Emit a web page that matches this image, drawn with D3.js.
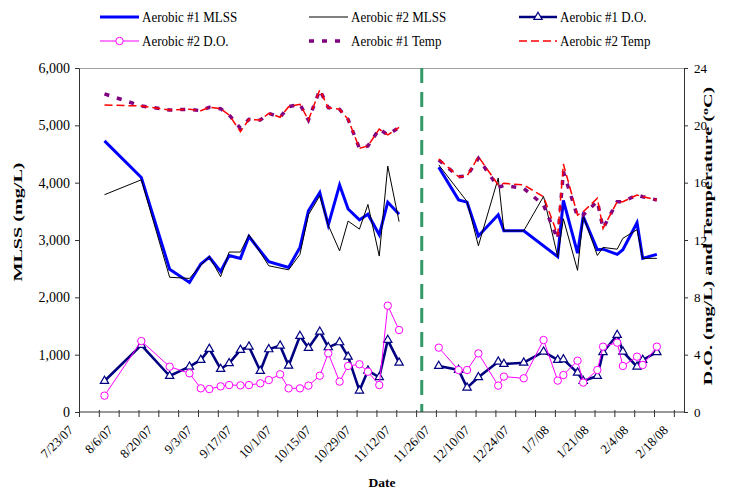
<!DOCTYPE html>
<html>
<head>
<meta charset="utf-8">
<script src="https://cdn.jsdelivr.net/npm/d3@7"></script>
<style>
  body { margin: 0; background: #fff; }
  svg { display: block; }
  text { font-family: "Liberation Serif", "Times New Roman", serif; fill: #000; }
</style>
</head>
<body>
<svg id="chart" width="735" height="491"></svg>
<script>
// Sampling dates (two operating periods separated by a process change)
const sampleDates = [
  "2007-08-01","2007-08-14","2007-08-24","2007-08-31","2007-09-04","2007-09-07","2007-09-11",
  "2007-09-14","2007-09-18","2007-09-21","2007-09-25","2007-09-28","2007-10-02","2007-10-05",
  "2007-10-09","2007-10-12","2007-10-16","2007-10-19","2007-10-23","2007-10-26","2007-10-30",
  "2007-11-02","2007-11-06","2007-11-09","2007-11-13",
  "2007-11-27","2007-12-04","2007-12-07","2007-12-11","2007-12-18","2007-12-20","2007-12-27",
  "2008-01-03","2008-01-08","2008-01-10","2008-01-15","2008-01-17","2008-01-22","2008-01-24",
  "2008-01-29","2008-01-31","2008-02-05","2008-02-07","2008-02-12"
];
const changeDate = "2007-11-21";

// MLSS (mg/L), left axis
const mlss1 = [4730,4090,2490,2260,2580,2700,2450,2730,2680,3060,null,2620,null,2520,2870,3510,3830,3260,3960,3540,3350,3450,3090,3660,3450,
               4270,3700,3660,3070,3440,3160,3160,null,2710,3690,2770,3410,2830,2840,2750,2830,3300,2680,2750];
const mlss2 = [3790,4050,2350,2330,2560,2710,2360,2790,2790,3090,null,2550,null,2480,2750,3440,3770,3260,2810,3330,3190,3620,2720,4290,3320,
               4310,null,3670,2900,4080,3160,3160,3760,2710,3370,2470,3420,2730,2870,2840,3030,3180,2680,2680];

// D.O. (mg/L) and temperature (deg C), right axis
const do1 = [2.16,4.67,2.51,3.16,3.63,4.40,3.00,3.40,4.33,4.56,2.86,4.37,4.63,3.23,5.30,4.47,5.60,4.51,4.86,3.86,1.49,2.88,2.42,5.02,3.44,
             3.21,2.93,1.70,2.42,3.51,3.35,3.44,4.21,3.63,3.67,2.74,2.16,2.51,4.17,5.37,4.21,3.16,3.63,4.17];
const do2 = [1.14,4.95,3.16,2.70,1.65,1.60,1.79,1.88,1.86,1.88,2.00,2.23,2.63,1.65,1.65,1.84,2.53,4.09,2.12,3.21,3.33,2.81,1.88,7.42,5.72,
             4.49,2.93,2.93,4.09,1.84,2.47,2.35,5.02,2.19,2.58,3.58,2.05,2.93,4.56,4.84,3.21,3.86,3.28,4.56];
const temp1 = [22.19,21.35,21.07,21.12,21.02,21.26,21.16,20.72,19.80,20.42,20.37,20.84,20.56,21.30,21.47,20.37,22.47,21.23,21.12,20.42,18.40,18.56,19.74,19.33,19.86,
               17.58,16.42,16.47,17.70,15.67,15.80,15.60,14.44,12.05,16.77,13.63,13.74,14.70,12.81,14.67,14.67,15.14,15.02,14.79];
const temp2 = [21.42,21.35,21.07,21.12,21.02,21.26,21.16,20.72,19.56,20.42,20.37,20.84,20.56,21.30,21.47,20.37,22.47,21.23,21.12,20.42,18.40,18.56,19.74,19.33,19.86,
               17.65,16.42,16.47,17.81,15.84,15.95,15.84,15.02,12.35,17.30,13.74,13.97,14.91,12.81,14.67,14.67,15.14,15.02,14.79];

// Axis ticks
const mlssTicks = [0,1000,2000,3000,4000,5000,6000];
const rightTicks = [0,4,8,12,16,20,24];
const axisStart = "2007-07-23";
const axisEnd = "2008-02-21T14:00";

const seriesNames = ["Aerobic #1 MLSS","Aerobic #2 MLSS","Aerobic #1 D.O.","Aerobic #2 D.O.","Aerobic #1 Temp","Aerobic #2 Temp"];

const parseDay = d3.timeParse("%Y-%m-%d");
const dates = sampleDates.map(parseDay);
const split = parseDay(changeDate);

const svg = d3.select("#chart");
const L = 79, R = 684, T = 68, B = 412;

const x = d3.scaleTime()
  .domain([parseDay(axisStart), d3.isoParse(axisEnd)])
  .range([L, R]);
const yL = d3.scaleLinear().domain([0, 6000]).range([B, T]);
const yR = d3.scaleLinear().domain([0, 24]).range([B, T]);

// top frame line
svg.append("line").attr("x1", L).attr("x2", R).attr("y1", T + 0.5).attr("y2", T + 0.5)
  .attr("stroke", "#a0a0a0").attr("stroke-width", 1);

// process-change marker
svg.append("line")
  .attr("x1", x(split)).attr("x2", x(split)).attr("y1", T).attr("y2", B)
  .attr("stroke", "#339966").attr("stroke-width", 3).attr("stroke-dasharray", "15,9");

// split a series into the two operating periods, skipping missing samples
function segments(values) {
  const pts = dates.map((d, i) => ({ d, v: values[i] })).filter(p => p.v != null);
  return [pts.filter(p => p.d < split), pts.filter(p => p.d >= split)];
}

const series = [
  { vals: mlss1, y: yL, color: "#0000ff", width: 3,   dash: null },
  { vals: mlss2, y: yL, color: "#000000", width: 1,   dash: null },
  { vals: do1,   y: yR, color: "#000080", width: 2.6, dash: null, marker: "tri" },
  { vals: do2,   y: yR, color: "#ff00ff", width: 1,   dash: null, marker: "circ" },
  { vals: temp1, y: yR, color: "#800080", width: 3.5, dash: "5,8" },
  { vals: temp2, y: yR, color: "#ff0000", width: 1.5, dash: "8,4" }
];

const tri = d3.symbol().type(d3.symbolTriangle).size(30);

series.forEach(s => {
  const line = d3.line().x(p => x(p.d)).y(p => s.y(p.v));
  const g = svg.append("g");
  segments(s.vals).forEach(seg => {
    g.append("path").attr("d", line(seg))
      .attr("fill", "none").attr("stroke", s.color).attr("stroke-width", s.width)
      .attr("stroke-linejoin", "miter").attr("stroke-dasharray", s.dash);
    if (s.marker === "tri") {
      g.selectAll(null).data(seg).join("path")
        .attr("d", tri).attr("transform", p => `translate(${x(p.d)},${s.y(p.v)})`)
        .attr("fill", "#fff").attr("stroke", s.color).attr("stroke-width", 1.2);
    } else if (s.marker === "circ") {
      g.selectAll(null).data(seg).join("circle")
        .attr("cx", p => x(p.d)).attr("cy", p => s.y(p.v)).attr("r", 3.7)
        .attr("fill", "#fff").attr("stroke", s.color).attr("stroke-width", 1);
    }
  });
});

// axes
const axisColor = "#333";
const gl = svg.append("g").attr("transform", `translate(${L},0)`)
  .call(d3.axisLeft(yL).tickValues(mlssTicks).tickFormat(d3.format(",")).tickSize(4).tickSizeOuter(0).tickPadding(5));
gl.select(".domain").attr("stroke", axisColor);
gl.selectAll(".tick line").attr("stroke", axisColor);
gl.selectAll("text").attr("font-size", 14).attr("font-family", "Liberation Serif");

const gr = svg.append("g").attr("transform", `translate(${R},0)`)
  .call(d3.axisRight(yR).tickValues(rightTicks).tickSize(4).tickSizeOuter(0).tickPadding(6));
gr.select(".domain").attr("stroke", axisColor);
gr.selectAll(".tick line").attr("stroke", axisColor);
gr.selectAll("text").attr("font-size", 13).attr("font-family", "Liberation Serif");

// weekly ticks, labels every second week
const t0 = parseDay(axisStart);
const weekTicks = d3.range(0, 31).map(i => d3.timeDay.offset(t0, 7 * i)).filter(d => d <= x.domain()[1]);
const fmt = d3.timeFormat("%-m/%-d/%y");
const gb = svg.append("g").attr("transform", `translate(0,${B})`)
  .call(d3.axisBottom(x).tickValues(weekTicks).tickSize(5).tickSizeOuter(0).tickFormat(""));
gb.select(".domain").attr("stroke", axisColor).attr("d", `M${L},0H${R}`);
gb.selectAll(".tick line").attr("stroke", axisColor).attr("y1", -2);
gb.selectAll(".tick text").remove();

svg.append("g").selectAll("text")
  .data(weekTicks.filter((d, i) => i % 2 === 0))
  .join("text")
  .attr("transform", d => `translate(${x(d) - 5},${B + 19}) rotate(-45)`)
  .attr("text-anchor", "end").attr("font-size", 13)
  .text(d => fmt(d));

// axis titles (drawn tall and narrow, stretched along the reading direction)
svg.append("text").attr("transform", `translate(22,222) rotate(-90) scale(1.55,1)`)
  .attr("text-anchor", "middle").attr("font-weight", "bold").attr("font-size", 13)
  .text("MLSS (mg/L)");

const rt = svg.append("text").attr("transform", `translate(712,236) rotate(-90) scale(1.55,1)`)
  .attr("text-anchor", "middle").attr("font-weight", "bold").attr("font-size", 13);
rt.append("tspan").text("D.O. (mg/L) and Temperature (");
rt.append("tspan").attr("dy", -4).attr("font-size", 9).text("o");
rt.append("tspan").attr("dy", 4).text("C)");

svg.append("text").attr("x", 382).attr("y", 487).attr("text-anchor", "middle")
  .attr("font-weight", "bold").attr("font-size", 13.5).text("Date");

// legend
const legendPos = [
  { lx: 100, tx: 142, y: 17 }, { lx: 309, tx: 351, y: 17 }, { lx: 519, tx: 560, y: 17 },
  { lx: 100, tx: 142, y: 41 }, { lx: 309, tx: 351, y: 41 }, { lx: 519, tx: 560, y: 41 }
];
const lg = svg.append("g");
series.forEach((s, i) => {
  const p = legendPos[i];
  const x2 = p.tx - 3;
  lg.append("line").attr("x1", p.lx).attr("x2", x2).attr("y1", p.y).attr("y2", p.y)
    .attr("stroke", s.color).attr("stroke-width", s.width).attr("stroke-dasharray", s.dash);
  const mx = (p.lx + x2) / 2;
  if (s.marker === "tri") {
    lg.append("path").attr("d", tri).attr("transform", `translate(${mx},${p.y})`)
      .attr("fill", "#fff").attr("stroke", s.color).attr("stroke-width", 1.2);
  } else if (s.marker === "circ") {
    lg.append("circle").attr("cx", mx).attr("cy", p.y).attr("r", 3.7)
      .attr("fill", "#fff").attr("stroke", s.color);
  }
  lg.append("text").attr("transform", `translate(${p.tx},${p.y + 5}) scale(1,1.2)`)
    .attr("font-size", 13).text(seriesNames[i]);
});
</script>
</body>
</html>
